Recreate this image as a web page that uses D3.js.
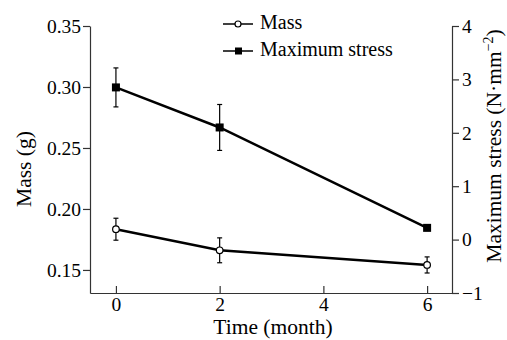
<!DOCTYPE html>
<html>
<head>
<meta charset="utf-8">
<script src="https://cdn.jsdelivr.net/npm/d3@7"></script>
<style>
  body { margin: 0; background: #fff; }
  svg text { font-family: "Liberation Serif", "Times New Roman", serif; fill: #000; }
</style>
</head>
<body>
<div id="chart"></div>
<script>
// Data
const months = [0, 2, 6];
const massValues = [0.1834, 0.1661, 0.1541];
const massErr = [0.009, 0.0102, 0.0066];
const stressValues = [2.85, 2.10, 0.22];
const stressErr = [0.365, 0.43, 0.05];

const xTicks = [0, 2, 4, 6];
const massTicks = [0.15, 0.20, 0.25, 0.30, 0.35];
const stressTicks = [-1, 0, 1, 2, 3, 4];

const width = 507, height = 340;
const margin = { top: 26, right: 55, bottom: 47, left: 90 };

const svg = d3.select("#chart").append("svg")
    .attr("width", width)
    .attr("height", height);

const x = d3.scaleLinear()
    .domain([-0.5, 6.48])
    .range([margin.left, width - margin.right]);

const yMass = d3.scaleLinear()
    .domain([0.1311, 0.35])
    .range([height - margin.bottom, margin.top]);

const yStress = d3.scaleLinear()
    .domain([-1, 4])
    .range([height - margin.bottom, margin.top]);

const axisColor = "#333";

// Bottom axis, ticks point inward
const gx = svg.append("g")
    .attr("transform", "translate(0," + (height - margin.bottom) + ")")
    .call(d3.axisBottom(x).tickValues(xTicks).tickFormat(d3.format("d"))
        .tickSizeInner(-7).tickSizeOuter(0).tickPadding(4));

// Left axis
const gl = svg.append("g")
    .attr("transform", "translate(" + margin.left + ",0)")
    .call(d3.axisLeft(yMass).tickValues(massTicks).tickFormat(d3.format(".2f"))
        .tickSizeInner(7).tickSizeOuter(0).tickPadding(2));

// Right axis
const gr = svg.append("g")
    .attr("transform", "translate(" + (width - margin.right) + ",0)")
    .call(d3.axisRight(yStress).tickValues(stressTicks)
        .tickFormat(d => d < 0 ? "\u2212" + Math.abs(d) : d)
        .tickSizeInner(7).tickSizeOuter(0).tickPadding(3));

[gx, gl, gr].forEach(g => {
    g.attr("font-family", null).attr("font-size", null);
    g.selectAll("path, line").attr("stroke", axisColor).attr("stroke-width", 1.2);
    g.selectAll("text").style("font-size", "19.5px");
});

// Axis titles
svg.append("text")
    .attr("x", 273).attr("y", 334)
    .attr("text-anchor", "middle")
    .style("font-size", "21.5px")
    .text("Time (month)");

svg.append("text")
    .attr("transform", "translate(31,169) rotate(-90)")
    .attr("text-anchor", "middle")
    .style("font-size", "21.5px")
    .text("Mass (g)");

const rt = svg.append("text")
    .attr("transform", "translate(501,146) rotate(-90)")
    .attr("text-anchor", "middle")
    .style("font-size", "21.5px");
rt.append("tspan").text("Maximum stress (N\u00b7mm");
rt.append("tspan").attr("dy", -8).style("font-size", "14px").text("\u22122");
rt.append("tspan").attr("dy", 8).text(")");

// Series helper
function drawSeries(vals, errs, y, marker) {
    const pts = months.map((m, i) => ({ m: m, v: vals[i], e: errs[i] }));

    const eb = svg.append("g").attr("stroke", "#000").attr("stroke-width", 1.2);
    pts.forEach(p => {
        const cx = x(p.m);
        eb.append("line").attr("x1", cx).attr("x2", cx)
            .attr("y1", y(p.v - p.e)).attr("y2", y(p.v + p.e));
        [p.v - p.e, p.v + p.e].forEach(v => {
            eb.append("line").attr("x1", cx - 2.5).attr("x2", cx + 2.5)
                .attr("y1", y(v)).attr("y2", y(v));
        });
    });

    svg.append("path")
        .datum(pts)
        .attr("fill", "none")
        .attr("stroke", "#000")
        .attr("stroke-width", 2.5)
        .attr("d", d3.line().x(d => x(d.m)).y(d => y(d.v)));

    if (marker === "circle") {
        svg.selectAll(null).data(pts).enter().append("circle")
            .attr("cx", d => x(d.m)).attr("cy", d => y(d.v)).attr("r", 3.3)
            .attr("fill", "#fff").attr("stroke", "#000").attr("stroke-width", 1.2);
    } else {
        svg.selectAll(null).data(pts).enter().append("rect")
            .attr("x", d => x(d.m) - 4).attr("y", d => y(d.v) - 4)
            .attr("width", 8).attr("height", 8)
            .attr("fill", "#000");
    }
}

drawSeries(massValues, massErr, yMass, "circle");
drawSeries(stressValues, stressErr, yStress, "square");

// Legend
const legend = svg.append("g");
const items = [
    { name: "Mass", marker: "circle", y: 24 },
    { name: "Maximum stress", marker: "square", y: 51 }
];
items.forEach(it => {
    legend.append("line").attr("x1", 223).attr("x2", 253)
        .attr("y1", it.y).attr("y2", it.y)
        .attr("stroke", "#000").attr("stroke-width", 1.5);
    if (it.marker === "circle") {
        legend.append("circle").attr("cx", 238).attr("cy", it.y).attr("r", 3)
            .attr("fill", "#fff").attr("stroke", "#000").attr("stroke-width", 1.2);
    } else {
        legend.append("rect").attr("x", 235).attr("y", it.y - 3.5)
            .attr("width", 7).attr("height", 7).attr("fill", "#000");
    }
    legend.append("text").attr("x", 260).attr("y", it.y + 5)
        .style("font-size", "20px").text(it.name);
});
</script>
</body>
</html>
